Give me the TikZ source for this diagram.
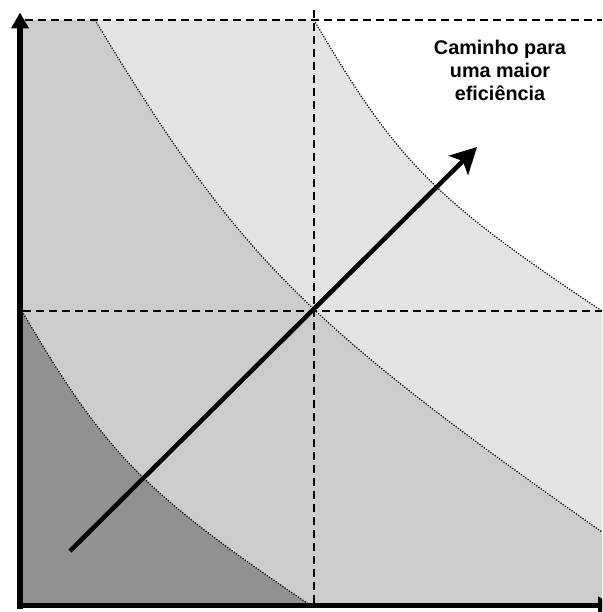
\documentclass[tikz,border=0pt]{standalone}
\usepackage{fontspec}
\setmainfont{Liberation Sans}
\usetikzlibrary{arrows.meta}
\definecolor{gdark}{HTML}{919191}
\definecolor{gmid}{HTML}{CCCCCC}
\definecolor{glight}{HTML}{E3E3E3}
\begin{document}
\begin{tikzpicture}[x=1pt,y=-1pt,
  bound/.style={draw=black,line width=1.2pt,dash pattern=on 1.2pt off 1.5pt},
  guide/.style={draw=black,line width=2pt,dash pattern=on 8pt off 5pt},
  axisline/.style={draw=black,line width=5.5pt,-{Triangle[length=16pt,width=17pt]}},
  trend/.style={draw=black,line width=4.5pt,-{Stealth[length=26pt,width=27pt,inset=6pt]}},
  lbl/.style={font=\bfseries\fontsize{19.8}{23}\selectfont,align=center,inner sep=0pt}]
\useasboundingbox (0,0) rectangle (602,612);
\clip (0,0) rectangle (602,612);
% regions
\fill[glight] (20,20) -- (314,20) .. controls (397,162) and (435,200) .. (602,311) -- (602,605) -- (20,605) -- cycle;
\fill[gmid] (20,20) -- (95,20) .. controls (237.7,256.6) and (304.7,323.2) .. (602,532) -- (602,605) -- (20,605) -- cycle;
\fill[gdark] (20,311) -- (22,311) .. controls (105.5,453.7) and (143,491.9) .. (310,605) -- (20,605) -- cycle;
% boundaries
\draw[bound] (314,20) .. controls (397,162) and (435,200) .. (602,311);
\draw[bound] (95,20) .. controls (237.7,256.6) and (304.7,323.2) .. (602,532);
\draw[bound] (22,311) .. controls (105.5,453.7) and (143,491.9) .. (310,605);
% guides
\coordinate (gt1) at (25,20);  \coordinate (gt2) at (602,20);
\coordinate (gv1) at (314,10); \coordinate (gv2) at (314,605);
\coordinate (gm1) at (23,311); \coordinate (gm2) at (602,311);
\draw[guide] (gt1) -- (gt2);
\draw[guide] (gv1) -- (gv2);
\draw[guide] (gm1) -- (gm2);
% trend arrow
\coordinate (ts) at (70,551);
\coordinate (te) at (477,147);
\draw[trend] (ts) -- (te);
% axes
\coordinate (yb) at (20,608.5); \coordinate (yt) at (20,12.5);
\coordinate (xl) at (17,605.5); \coordinate (xr) at (614,605.5);
\draw[axisline] (yb) -- (yt);
\draw[axisline] (xl) -- (xr);
% label
\node[lbl] (caption) at (500,70) {Caminho para\\uma maior\\eficiência};
\end{tikzpicture}
\end{document}
